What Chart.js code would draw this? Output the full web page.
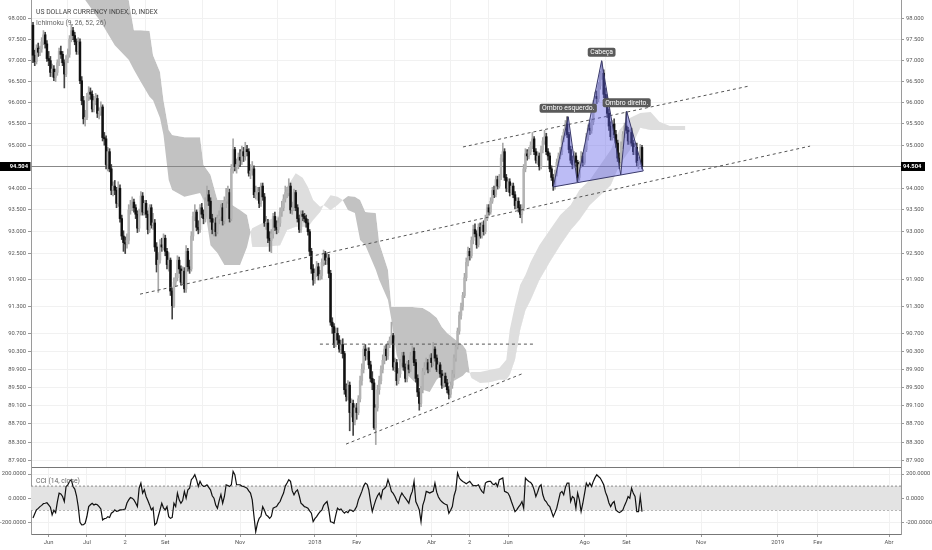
<!DOCTYPE html>
<html><head><meta charset="utf-8">
<script src="https://cdn.jsdelivr.net/npm/chart.js"></script>
<style>
html,body{margin:0;padding:0;background:#fff;}
#wrap{position:relative;width:932px;height:550px;overflow:hidden;background:#fff;}
#main{position:absolute;left:0;top:0;}
#sub{position:absolute;left:0;top:468px;}
</style></head><body>
<div id="wrap"><canvas id="main" width="932" height="468"></canvas><canvas id="sub" width="932" height="82"></canvas></div>
<script>
// ---------- DATA ----------
const titleText = 'US DOLLAR CURRENCY INDEX, D, INDEX';
const ichimokuText = 'Ichimoku (9, 26, 52, 26)';
const cciText = 'CCI (14, close)';

const monthLabels = ['Jun','Jul','2','Set','Nov','2018','Fev','Abr','2','Jun','Ago','Set','Nov','2019','Fev','Abr'];
const monthBars   = [9, 31, 53, 76, 119, 162, 186, 229, 251, 273, 317, 341, 384, 428, 451, 492];

const priceTicks = [98, 97.5, 97, 96.5, 96, 95.5, 95, 94, 93.5, 93, 92.5, 91.9, 91.3, 90.7, 90.3, 89.9, 89.5, 89.1, 88.7, 88.3, 87.9];
const cciTicks = [200, 0, -200];
const cciUpper = 100, cciLower = -100;

const opens = [
97.85,97.13,96.98,97.30,97.20,97.28,97.45,97.62,97.40,97.05,
97.00,96.72,96.80,96.60,96.72,96.95,97.22,97.15,96.95,96.68,
97.05,97.15,97.52,97.72,97.60,97.45,97.22,97.45,96.52,96.05,
95.62,95.65,96.15,96.25,96.20,95.85,96.05,96.10,95.75,95.80,
95.90,95.18,95.15,94.55,94.85,94.45,93.95,94.05,93.95,93.65,
94.00,93.30,92.90,92.75,92.72,92.80,93.50,93.60,93.68,93.55,
93.40,93.08,93.45,93.82,93.45,93.65,93.40,93.05,93.55,93.15,
93.20,92.65,92.25,92.35,92.70,92.65,92.85,92.55,92.25,92.35,
91.65,91.32,91.85,91.95,92.35,92.15,91.85,92.10,91.70,92.55,
92.20,92.15,92.90,93.35,93.45,93.10,93.05,93.55,93.40,93.30,
93.70,93.85,93.70,93.30,93.05,93.20,93.00,93.30,93.35,93.55,
93.25,93.70,93.75,93.90,93.30,94.45,94.90,94.50,94.55,94.72,
94.65,94.85,94.75,94.90,94.85,94.35,94.40,94.45,93.85,93.90,
93.90,93.65,94.05,93.80,93.20,93.20,92.85,92.80,92.95,93.35,
93.10,93.05,93.20,93.45,93.55,93.75,93.90,93.90,94.05,93.50,
93.55,93.90,93.55,93.30,93.05,93.40,93.35,93.30,93.20,93.00,
92.55,92.15,91.90,92.05,92.20,92.00,92.00,92.30,92.50,92.35,
92.40,92.05,90.95,90.85,90.45,90.70,90.55,90.35,90.45,90.25,
89.45,89.30,89.55,88.95,89.15,88.75,89.05,88.95,89.25,89.65,
89.90,90.35,90.20,90.30,90.00,89.70,89.60,88.62,89.05,89.45,
89.65,89.90,90.10,90.35,90.20,90.45,90.55,90.65,89.95,90.05,
89.65,89.80,90.05,90.20,89.95,89.70,90.00,89.90,90.20,90.30,
90.05,89.70,89.40,89.15,89.45,89.85,89.95,90.05,89.90,90.15,
90.05,90.35,90.15,89.90,90.00,89.80,89.55,89.75,89.60,89.45,
89.35,89.55,89.80,90.15,90.40,90.75,91.10,91.30,91.55,91.95,
92.30,92.55,92.45,92.80,93.05,92.95,92.70,93.10,92.90,93.15,
93.00,93.30,93.55,93.45,93.70,93.95,93.85,94.20,94.05,94.25,
94.70,94.85,94.25,94.00,94.15,93.90,94.05,93.85,93.60,93.70,
93.55,93.40,93.55,94.45,94.80,94.75,94.85,95.00,95.15,94.85,
94.65,94.75,94.50,94.90,95.10,95.20,94.85,94.75,94.45,94.25,
94.05,94.35,94.60,94.75,94.85,95.15,95.30,95.50,95.25,94.90,
94.65,94.55,94.75,94.60,94.25,94.55,94.75,94.60,94.90,95.20,
95.40,95.35,95.55,95.95,96.15,96.10,96.40,96.65,96.70,96.20,
96.10,95.75,95.45,95.20,95.50,95.25,95.05,94.70,94.60,95.00,
95.25,95.45,95.35,95.10,95.30,95.05,94.85,94.95,94.60,94.60,
94.95];
const highs = [
97.92,97.25,97.38,97.42,97.35,97.55,97.72,97.68,97.48,97.22,
97.10,96.92,96.88,96.80,97.02,97.30,97.35,97.22,97.02,97.12,
97.28,97.60,97.87,97.80,97.68,97.52,97.55,97.52,96.62,96.15,
95.82,96.22,96.38,96.35,96.28,96.15,96.22,96.18,95.88,96.02,
95.95,95.30,95.22,94.95,94.92,94.55,94.15,94.18,94.02,94.15,
94.08,93.38,93.02,92.88,92.95,93.62,93.72,93.80,93.75,93.62,
93.48,93.52,93.92,93.90,93.72,93.72,93.48,93.62,93.62,93.42,
93.28,92.75,92.52,92.82,92.85,92.95,92.92,92.62,92.52,92.40,
91.72,91.95,92.05,92.45,92.42,92.22,92.20,92.18,92.68,92.62,
92.35,93.00,93.45,93.62,93.50,93.25,93.62,93.65,93.50,93.78,
94.05,93.95,93.78,93.40,93.28,93.32,93.38,93.48,93.62,93.65,
93.80,94.00,94.05,93.98,94.55,95.15,94.95,94.68,94.82,94.90,
94.98,94.95,95.07,95.00,94.92,94.55,94.62,94.52,94.05,94.02,
94.02,94.12,94.12,93.88,93.35,93.28,93.00,93.05,93.42,93.45,
93.25,93.32,93.55,93.70,93.85,94.05,94.02,94.22,94.12,93.68,
93.98,93.95,93.62,93.38,93.48,93.48,93.42,93.38,93.28,93.05,
92.62,92.25,92.15,92.32,92.28,92.12,92.38,92.58,92.55,92.52,
92.48,92.12,91.05,90.92,90.82,90.82,90.65,90.55,90.58,90.30,
89.58,89.65,89.62,89.25,89.22,89.12,89.15,89.32,89.75,90.02,
90.42,90.45,90.38,90.38,90.08,89.85,89.68,89.12,89.55,89.75,
89.98,90.22,90.42,90.45,90.52,90.62,90.95,90.70,90.15,90.12,
89.92,90.12,90.28,90.28,90.02,90.08,90.10,90.28,90.42,90.38,
90.12,89.78,89.48,89.52,89.92,90.05,90.15,90.12,90.22,90.25,
90.50,90.40,90.22,90.08,90.05,89.88,89.82,89.82,89.68,89.52,
89.62,89.88,90.22,90.48,90.82,91.18,91.38,91.62,92.05,92.40,
92.65,92.62,92.88,93.15,93.18,93.02,93.18,93.20,93.22,93.25,
93.38,93.62,93.62,93.78,94.02,94.05,94.28,94.28,94.32,94.78,
95.05,94.92,94.32,94.22,94.22,94.12,94.12,93.92,93.78,93.78,
93.62,93.62,94.55,94.92,94.90,94.95,95.08,95.30,95.20,94.92,
94.85,94.82,94.98,95.18,95.35,95.28,94.92,94.82,94.52,94.32,
94.42,94.68,94.82,94.95,95.22,95.38,95.58,95.67,95.30,94.98,
94.75,94.85,94.82,94.65,94.62,94.85,94.82,94.98,95.28,95.48,
95.52,95.62,96.05,96.25,96.28,96.48,96.75,96.98,96.78,96.35,
96.18,95.85,95.55,95.58,95.62,95.35,95.12,94.82,95.08,95.32,
95.52,95.78,95.42,95.38,95.40,95.12,95.02,95.05,94.72,95.02,
95.00];
const lows = [
96.95,96.88,96.92,97.10,97.12,97.20,97.38,97.30,96.98,96.88,
96.62,96.62,96.52,96.50,96.65,96.88,97.05,96.88,96.35,96.62,
96.95,97.08,97.45,97.50,97.38,97.15,97.15,96.45,95.95,95.50,
95.45,95.60,96.05,96.08,95.78,95.78,95.95,95.65,95.62,95.70,
95.10,95.00,94.45,94.40,94.38,93.85,93.82,93.85,93.55,93.58,
93.22,92.82,92.55,92.50,92.62,92.72,93.40,93.48,93.45,93.30,
92.98,93.00,93.38,93.38,93.38,93.32,92.95,92.98,93.08,93.05,
92.55,92.08,91.62,92.28,92.55,92.58,92.45,92.15,92.10,91.55,
91.02,91.28,91.75,91.88,92.05,91.78,91.80,91.62,91.62,92.10,
92.05,92.10,92.80,93.25,93.02,92.95,92.98,93.32,93.18,93.22,
93.60,93.60,93.22,92.95,92.90,92.90,92.95,93.18,93.25,93.15,
93.18,93.55,93.65,93.22,93.25,94.35,94.40,94.35,94.45,94.50,
94.55,94.62,94.65,94.75,94.28,94.22,94.30,93.78,93.75,93.72,
93.55,93.58,93.72,93.12,93.05,92.75,92.55,92.52,92.85,93.02,
92.95,92.98,93.12,93.35,93.48,93.68,93.78,93.82,93.42,93.40,
93.48,93.48,93.22,92.98,92.98,93.25,93.22,93.10,92.92,92.45,
92.05,91.78,91.82,91.98,91.90,91.90,91.92,92.22,92.25,92.25,
91.95,90.88,90.70,90.38,90.40,90.45,90.28,90.25,90.15,89.35,
89.20,89.22,88.55,88.85,88.45,88.68,88.80,88.90,89.18,89.55,
89.82,90.10,90.12,89.92,89.62,89.45,88.58,88.25,88.98,89.35,
89.58,89.82,90.02,90.10,90.12,90.38,90.45,89.88,89.85,89.55,
89.58,89.72,89.98,89.88,89.62,89.62,89.82,89.85,90.12,89.98,
89.62,89.30,89.00,89.08,89.38,89.78,89.88,89.82,89.85,89.95,
89.98,90.08,89.85,89.82,89.72,89.48,89.50,89.52,89.38,89.25,
89.28,89.48,89.72,90.08,90.35,90.68,91.02,91.22,91.50,91.88,
92.22,92.35,92.40,92.72,92.88,92.62,92.65,92.85,92.85,92.92,
92.95,93.25,93.38,93.40,93.65,93.78,93.80,93.98,94.00,94.20,
94.62,94.18,93.92,93.92,93.82,93.85,93.78,93.52,93.52,93.45,
93.32,93.20,93.48,94.38,94.65,94.68,94.78,94.92,94.78,94.58,
94.55,94.42,94.45,94.82,95.02,94.78,94.65,94.38,94.18,93.95,
93.98,94.28,94.52,94.68,94.78,95.08,95.22,95.18,94.82,94.58,
94.45,94.48,94.52,94.15,94.18,94.48,94.52,94.55,94.85,95.12,
95.25,95.28,95.48,95.88,95.98,96.02,96.32,96.55,96.12,95.95,
95.65,95.35,95.12,95.12,95.18,94.95,94.62,94.45,94.52,94.92,
95.18,95.28,95.02,95.02,94.98,94.78,94.78,94.52,94.45,94.55,
94.45];
const closes = [
97.13,96.98,97.30,97.20,97.28,97.45,97.62,97.40,97.05,97.00,
96.72,96.80,96.60,96.72,96.95,97.22,97.15,96.95,96.68,97.05,
97.15,97.52,97.72,97.60,97.45,97.22,97.45,96.52,96.05,95.62,
95.65,96.15,96.25,96.20,95.85,96.05,96.10,95.75,95.80,95.90,
95.18,95.15,94.55,94.85,94.45,93.95,94.05,93.95,93.65,94.00,
93.30,92.90,92.75,92.72,92.80,93.50,93.60,93.68,93.55,93.40,
93.08,93.45,93.82,93.45,93.65,93.40,93.05,93.55,93.15,93.20,
92.65,92.25,92.35,92.70,92.65,92.85,92.55,92.25,92.35,91.65,
91.32,91.85,91.95,92.35,92.15,91.85,92.10,91.70,92.55,92.20,
92.15,92.90,93.35,93.45,93.10,93.05,93.55,93.40,93.30,93.70,
93.85,93.70,93.30,93.05,93.20,93.00,93.30,93.35,93.55,93.25,
93.70,93.75,93.90,93.30,94.45,94.90,94.50,94.55,94.72,94.65,
94.85,94.75,94.90,94.85,94.35,94.40,94.45,93.85,93.90,93.90,
93.65,94.05,93.80,93.20,93.20,92.85,92.80,92.95,93.35,93.10,
93.05,93.20,93.45,93.55,93.75,93.90,93.90,94.05,93.50,93.55,
93.90,93.55,93.30,93.05,93.40,93.35,93.30,93.20,93.00,92.55,
92.15,91.90,92.05,92.20,92.00,92.00,92.30,92.50,92.35,92.40,
92.05,90.95,90.85,90.45,90.70,90.55,90.35,90.45,90.25,89.45,
89.30,89.55,88.95,89.15,88.75,89.05,88.95,89.25,89.65,89.90,
90.35,90.20,90.30,90.00,89.70,89.60,88.62,89.05,89.45,89.65,
89.90,90.10,90.35,90.20,90.45,90.55,90.65,89.95,90.05,89.65,
89.80,90.05,90.20,89.95,89.70,90.00,89.90,90.20,90.30,90.05,
89.70,89.40,89.15,89.45,89.85,89.95,90.05,89.90,90.15,90.05,
90.35,90.15,89.90,90.00,89.80,89.55,89.75,89.60,89.45,89.35,
89.55,89.80,90.15,90.40,90.75,91.10,91.30,91.55,91.95,92.30,
92.55,92.45,92.80,93.05,92.95,92.70,93.10,92.90,93.15,93.00,
93.30,93.55,93.45,93.70,93.95,93.85,94.20,94.05,94.25,94.70,
94.85,94.25,94.00,94.15,93.90,94.05,93.85,93.60,93.70,93.55,
93.40,93.55,94.45,94.80,94.75,94.85,95.00,95.15,94.85,94.65,
94.75,94.50,94.90,95.10,95.20,94.85,94.75,94.45,94.25,94.05,
94.35,94.60,94.75,94.85,95.15,95.30,95.50,95.25,94.90,94.65,
94.55,94.75,94.60,94.25,94.55,94.75,94.60,94.90,95.20,95.40,
95.35,95.55,95.95,96.15,96.10,96.40,96.65,96.70,96.20,96.10,
95.75,95.45,95.20,95.50,95.25,95.05,94.70,94.60,95.00,95.25,
95.45,95.35,95.10,95.30,95.05,94.85,94.95,94.60,94.60,94.95,
94.504];

// Ichimoku cloud (Senkou A / Senkou B), read at bar positions
const cloudBars = [0,30,39,47,55,58,62,67,69,73,75,78,80,87,96,98,102,106,110,119,123,125,126,133,142,146,151,155,158,161,165,167,171,175,178,181,185,188,191,197,199,204,206,209,212,218,224,228,232,235,238,243,247,249,251,252,257,263,268,272,274,277,280,283,286,291,297,303,309,314,320,326,332,337,343,349,355,360,366,375];
const spanA = [99.80,98.46,97.93,97.37,97.02,96.78,96.49,96.14,96.06,95.64,95.24,94.19,93.96,93.80,93.89,93.73,92.69,92.51,92.24,92.24,92.65,92.99,93.08,93.22,93.38,94.03,94.35,94.24,94.03,93.73,93.57,93.61,93.84,93.80,93.73,93.50,93.43,92.81,92.69,92.13,91.90,91.45,91.00,90.22,89.89,89.67,89.45,89.40,89.67,89.78,89.56,89.67,89.76,89.84,89.82,89.84,89.84,89.89,89.93,90.11,90.78,91.33,91.79,92.01,92.31,92.69,93.04,93.38,93.61,93.96,94.19,94.54,94.89,95.36,95.64,95.76,95.78,95.55,95.45,95.45];
const spanB = [101.20,100.42,99.92,99.56,98.46,97.73,97.73,97.71,97.13,96.73,96.06,95.36,95.24,95.19,95.19,94.54,94.31,93.73,93.73,93.50,93.38,92.99,92.65,92.65,92.69,93.04,93.11,93.11,93.11,93.27,93.45,93.61,93.50,93.61,93.73,93.82,93.80,93.73,93.45,93.43,92.74,92.13,91.29,91.29,91.29,91.29,91.27,91.18,91.05,90.84,90.71,90.55,90.44,90.33,89.82,89.71,89.60,89.62,89.67,89.67,89.78,90.11,90.78,91.22,91.45,91.90,92.31,92.69,93.04,93.27,93.61,93.84,94.07,94.54,94.89,95.41,95.36,95.36,95.36,95.36];

const cciValues = [
-165,-130,-97,-85,-70,-60,-45,-42,-38,-55,
-75,-139,-100,-120,-30,42,35,14,-28,97,
110,139,153,97,75,20,-70,-200,-222,-220,
-208,-150,-70,-55,-42,-56,-50,-55,-70,-90,
-181,-170,-167,-153,-160,-125,-115,-97,-110,-105,
-97,-97,-94,-90,-40,-14,5,0,-14,-40,
-70,83,125,42,70,14,-20,-56,-97,-80,
-222,-208,-150,-97,-42,-80,-97,-70,-153,-167,
-160,-42,-70,42,-14,-42,-20,56,0,69,
83,153,170,194,153,97,139,110,97,100,
111,90,69,20,0,-56,-83,-20,30,-42,
14,111,105,97,111,222,194,111,111,111,
100,97,90,83,60,42,-14,-150,-278,-208,
-167,-150,-70,-100,-139,-150,-167,-150,-83,-75,
-70,-45,-28,10,42,100,125,153,139,60,
28,55,69,20,-42,-55,-70,-75,-83,-105,
-125,-195,-170,-153,-130,-111,-100,-60,-42,-28,
-97,-195,-200,-208,-140,-83,-97,-90,-110,-125,
-110,-120,-97,-100,-111,-95,-70,-14,20,56,
100,125,115,69,-28,-111,-60,-14,20,42,
0,69,80,97,153,110,56,40,14,-20,
-42,10,42,20,0,-20,-42,20,56,139,
-28,-60,-97,-195,-60,-14,56,50,42,50,
56,125,50,10,-14,-30,-42,-50,-56,-125,
-100,-70,20,69,208,167,150,139,130,120,
130,139,120,103,105,103,111,80,56,42,
125,135,139,139,120,111,125,97,153,160,
167,56,50,42,14,-30,-70,-111,-97,-75,
-56,-28,-83,167,150,139,130,110,69,14,
50,97,111,28,-14,-30,-56,-70,-110,-153,
-120,-83,-20,42,56,28,90,125,125,-28,
14,0,-83,42,-14,-111,-42,40,125,97,
125,97,139,170,194,180,167,140,111,50,
14,-40,-70,-42,-28,-97,-110,-120,-110,-97,
-60,-28,14,0,83,40,14,-111,-111,14,
-111];

// drawn trend lines (bar, price)
const trendStartBar   = [247.1, 61.5, 164.9, 179.9];
const trendStartPrice = [94.96, 91.58, 90.46, 88.26];
const trendEndBar     = [412.1, 446.6, 287.4, 281.0];
const trendEndPrice   = [96.40, 94.98, 90.46, 89.80];

// head & shoulders drawing (bar, price)
const hsBars   = [299.0, 307.6, 312.8, 326.8, 337.8, 341.2, 350.7, 299.0];
const hsPrices = [94.03, 95.67, 94.15, 97.00, 94.31, 95.80, 94.40, 94.03];
const hsLabels = ['Ombro esquerdo.', 'Cabeça', 'Ombro direito.'];
const hsLabelBars   = [307.6, 326.8, 341.2];
const hsLabelPrices = [95.67, 97.00, 95.80];

// ---------- CHART ----------
const X_MIN = -1.15, X_MAX = 498.85;
const P_MIN = 87.764, P_MAX = 98.459;
const C_MIN = -297, C_MAX = 250;
const FONT = 'Roboto, "Open Sans", sans-serif';
const lastClose = closes[closes.length - 1];
const bars = closes.map((_, i) => i);
const GRID = '#f1f1f1';
const AXIS_TXT = '#555';

function fixW(w){ return s => { s.width = w; s.paddingTop = 0; s.paddingBottom = 0; }; }

const mainOverlay = {
  id: 'mainOverlay',
  afterDraw(chart) {
    const ctx = chart.ctx, xs = chart.scales.x, ys = chart.scales.y;
    ctx.save();
    ctx.textBaseline = 'alphabetic';
    ctx.textAlign = 'left';
    ctx.font = '6.8px ' + FONT;
    ctx.fillStyle = '#444';
    ctx.fillText(titleText, 36, 13.5);
    ctx.fillStyle = '#666';
    ctx.fillText(ichimokuText, 36, 25);
    // last price boxes
    const py = ys.getPixelForValue(lastClose);
    ctx.fillStyle = '#000';
    ctx.fillRect(0, py - 4.5, 30.5, 9);
    ctx.fillRect(901, py - 4.5, 24, 9);
    ctx.fillStyle = '#fff';
    ctx.font = 'bold 5.8px ' + FONT;
    ctx.textBaseline = 'middle';
    ctx.textAlign = 'left';
    ctx.fillText(lastClose.toFixed(3), 903, py + 0.5);
    ctx.textAlign = 'right';
    ctx.fillText(lastClose.toFixed(3), 28, py + 0.5);
    // pattern labels
    ctx.font = '6.8px ' + FONT;
    ctx.textAlign = 'center';
    hsLabels.forEach((t, k) => {
      const x = xs.getPixelForValue(hsLabelBars[k]);
      const y = ys.getPixelForValue(hsLabelPrices[k]);
      const w = ctx.measureText(t).width + 5;
      const h = 9;
      const top = y - 4 - h;
      ctx.fillStyle = '#5a5a5a';
      ctx.beginPath();
      if (ctx.roundRect) ctx.roundRect(x - w / 2, top, w, h, 2); else ctx.rect(x - w / 2, top, w, h);
      ctx.fill();
      ctx.fillStyle = '#fff';
      ctx.textBaseline = 'middle';
      ctx.fillText(t, x, top + h / 2 + 0.5);
    });
    ctx.restore();
  }
};

const trendSets = trendStartBar.map((b, k) => ({
  type: 'line', label: 'trend' + k,
  data: [{x: b, y: trendStartPrice[k]}, {x: trendEndBar[k], y: trendEndPrice[k]}],
  borderColor: '#555', borderWidth: 1, borderDash: [3, 3], pointRadius: 0, fill: false,
  order: 3, yAxisID: 'y', xAxisID: 'x'
}));

new Chart(document.getElementById('main'), {
  type: 'bar',
  data: { datasets: [
    { type: 'line', label: 'Senkou A', data: cloudBars.map((b, i) => ({x: b, y: spanA[i]})),
      borderColor: 'rgba(0,0,0,0)', borderWidth: 0, pointRadius: 0, tension: 0,
      fill: { target: 1, above: '#dedede', below: '#c2c2c2' }, order: 20, yAxisID: 'y' },
    { type: 'line', label: 'Senkou B', data: cloudBars.map((b, i) => ({x: b, y: spanB[i]})),
      borderColor: 'rgba(0,0,0,0)', borderWidth: 0, pointRadius: 0, tension: 0, fill: false, order: 21, yAxisID: 'y' },
    { type: 'line', label: 'last', data: [{x: X_MIN, y: lastClose}, {x: X_MAX, y: lastClose}],
      borderColor: '#888', borderWidth: 1, pointRadius: 0, fill: false, order: 15, yAxisID: 'y' },
    { type: 'bar', label: 'wicks', data: bars.map(i => ({x: i, y: [lows[i], highs[i]]})),
      backgroundColor: bars.map(i => closes[i] >= opens[i] ? '#a8a8a8' : '#444'),
      barThickness: 1, grouped: false, minBarLength: 1, order: 6, yAxisID: 'y' },
    { type: 'bar', label: 'bodies', data: bars.map(i => ({x: i, y: [opens[i], closes[i]]})),
      backgroundColor: bars.map(i => closes[i] >= opens[i] ? '#b4b4b4' : '#111'),
      barThickness: 1.8, grouped: false, minBarLength: 1, order: 5, yAxisID: 'y' },
    ...trendSets,
    { type: 'line', label: 'H&S', data: hsBars.map((b, i) => ({x: b, y: hsPrices[i]})),
      borderColor: '#3a3a6a', borderWidth: 1, backgroundColor: 'rgba(95,95,230,0.42)', fill: 'shape',
      pointRadius: 0, tension: 0, order: 2, yAxisID: 'y' }
  ]},
  options: {
    responsive: false, animation: false, devicePixelRatio: 1,
    layout: { padding: 0 },
    plugins: { legend: { display: false }, tooltip: { enabled: false } },
    scales: {
      x: { type: 'linear', min: X_MIN, max: X_MAX, position: 'bottom', offset: false,
        afterBuildTicks: s => { s.ticks = monthBars.map(v => ({value: v})); },
        afterFit: s => { s.height = 1; s.paddingLeft = 0; s.paddingRight = 0; },
        ticks: { display: false, autoSkip: false },
        grid: { color: GRID, drawTicks: false, tickLength: 0 },
        border: { color: '#777', width: 1 } },
      y: { type: 'logarithmic', position: 'right', min: P_MIN, max: P_MAX,
        afterBuildTicks: s => { s.ticks = priceTicks.map(v => ({value: v})); },
        afterFit: fixW(31),
        ticks: { autoSkip: false, padding: 2, color: AXIS_TXT, font: { size: 5.8, family: FONT }, callback: v => Number(v).toFixed(3) },
        grid: { color: GRID, tickColor: '#999', tickLength: 3 },
        border: { color: '#9a9a9a' } },
      yL: { type: 'logarithmic', position: 'left', min: P_MIN, max: P_MAX,
        afterBuildTicks: s => { s.ticks = priceTicks.map(v => ({value: v})); },
        afterFit: fixW(31),
        ticks: { autoSkip: false, padding: 2, color: AXIS_TXT, font: { size: 5.8, family: FONT }, callback: v => Number(v).toFixed(3) },
        grid: { color: 'rgba(0,0,0,0)', tickColor: '#999', tickLength: 3 },
        border: { color: '#9a9a9a' } }
    }
  },
  plugins: [mainOverlay]
});

const subOverlay = {
  id: 'subOverlay',
  afterDraw(chart) {
    const ctx = chart.ctx;
    ctx.save();
    ctx.font = '6.8px ' + FONT;
    ctx.fillStyle = '#666';
    ctx.textBaseline = 'alphabetic';
    ctx.fillText(cciText, 36, 15);
    ctx.restore();
  }
};

new Chart(document.getElementById('sub'), {
  type: 'line',
  data: { datasets: [
    { label: 'upper', data: [{x: X_MIN, y: cciUpper}, {x: X_MAX, y: cciUpper}], borderColor: '#8a8a8a', borderDash: [2, 2],
      borderWidth: 1, pointRadius: 0, fill: '+1', backgroundColor: '#e3e3e3', order: 5 },
    { label: 'lower', data: [{x: X_MIN, y: cciLower}, {x: X_MAX, y: cciLower}], borderColor: '#8a8a8a', borderDash: [2, 2],
      borderWidth: 1, pointRadius: 0, fill: false, order: 6 },
    { label: 'CCI', data: cciValues.map((v, i) => ({x: i, y: v})), borderColor: '#111', borderWidth: 1.2,
      pointRadius: 0, fill: false, tension: 0, order: 0 }
  ]},
  options: {
    responsive: false, animation: false, devicePixelRatio: 1,
    layout: { padding: 0 },
    plugins: { legend: { display: false }, tooltip: { enabled: false } },
    scales: {
      x: { type: 'linear', min: X_MIN, max: X_MAX, position: 'bottom', offset: false,
        afterBuildTicks: s => { s.ticks = monthBars.map(v => ({value: v})); },
        afterFit: s => { s.height = 16; s.paddingLeft = 0; s.paddingRight = 0; },
        ticks: { autoSkip: false, maxRotation: 0, padding: 2, color: AXIS_TXT, font: { size: 5.8, family: FONT },
          callback: (v, i) => monthLabels[i] },
        grid: { color: GRID, tickColor: '#999', tickLength: 3 },
        border: { color: '#777' } },
      y: { type: 'linear', position: 'right', min: C_MIN, max: C_MAX,
        afterBuildTicks: s => { s.ticks = cciTicks.map(v => ({value: v})); },
        afterFit: fixW(31),
        ticks: { autoSkip: false, padding: 2, color: AXIS_TXT, font: { size: 5.8, family: FONT }, callback: v => Number(v).toFixed(4) },
        grid: { color: GRID, tickColor: '#999', tickLength: 3 },
        border: { color: '#9a9a9a' } },
      yL: { type: 'linear', position: 'left', min: C_MIN, max: C_MAX,
        afterBuildTicks: s => { s.ticks = cciTicks.map(v => ({value: v})); },
        afterFit: fixW(31),
        ticks: { autoSkip: false, padding: 2, color: AXIS_TXT, font: { size: 5.8, family: FONT }, callback: v => Number(v).toFixed(4) },
        grid: { color: 'rgba(0,0,0,0)', tickColor: '#999', tickLength: 3 },
        border: { color: '#9a9a9a' } }
    }
  },
  plugins: [subOverlay]
});
</script>
</body></html>
